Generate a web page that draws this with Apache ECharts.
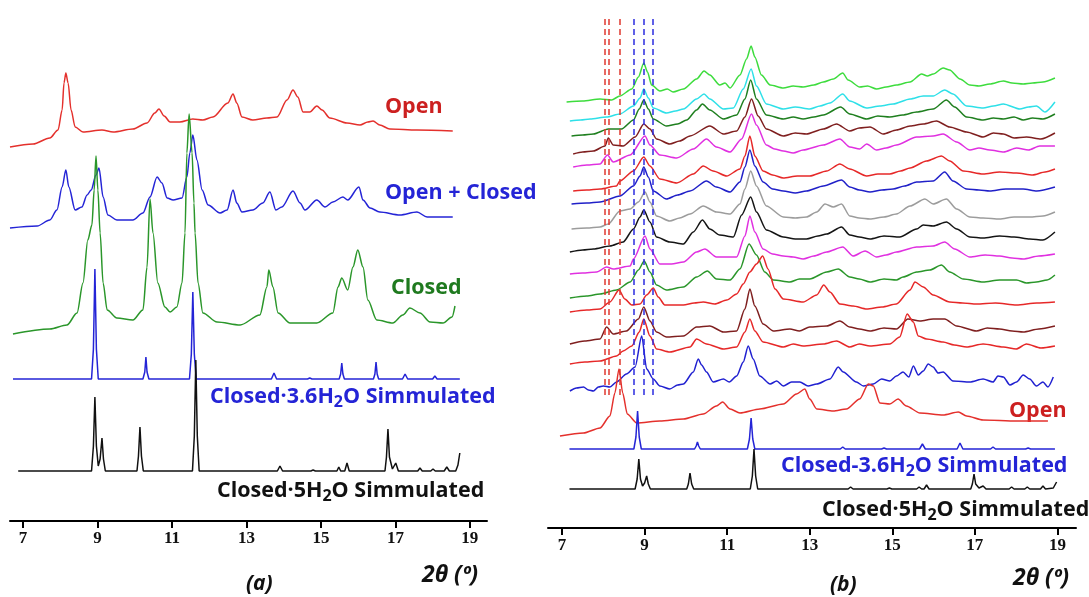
<!DOCTYPE html>
<html>
<head>
<meta charset="utf-8">
<script src="https://cdn.jsdelivr.net/npm/echarts@6/dist/echarts.min.js"></script>
<style>
  html, body { margin: 0; padding: 0; background: #fff; }
  #chart { width: 1089px; height: 597px; }
</style>
</head>
<body>
<div id="chart"></div>
<script>
// tick labels on both 2θ axes
var tickLabels = [7, 9, 11, 13, 15, 17, 19];

// ---- panel (a): [2θ, intensity above the trace's own baseline] ----
var aOpen = [[6.65,0],[7.27,3],[7.72,9],[7.94,17],[8.05,37],[8.10,64],[8.15,74],[8.21,64],[8.29,37],[8.40,20],[8.61,15],[9.12,17],[9.42,15],[9.95,18],[10.33,24],[10.54,34],[10.65,38],[10.79,31],[10.95,25],[11.21,25],[11.56,28],[11.83,27],[12.10,30],[12.50,44],[12.64,53],[12.74,44],[12.88,30],[13.17,27],[13.55,29],[13.82,30],[14.09,47],[14.25,57],[14.38,50],[14.52,35],[14.70,35],[14.89,41],[15.03,37],[15.24,29],[15.70,24],[16.05,22],[16.26,25],[16.40,26],[16.58,22],[16.85,18],[17.58,17],[18.54,16]];
var aOpenClosed = [[6.65,0],[7.38,2],[7.72,8],[7.91,18],[8.05,41],[8.15,58],[8.23,41],[8.40,18],[8.58,21],[8.72,33],[8.83,38],[8.96,53],[9.04,60],[9.15,31],[9.28,13],[9.52,8],[9.95,8],[10.22,15],[10.41,31],[10.60,51],[10.73,45],[10.87,30],[11.03,28],[11.27,30],[11.40,51],[11.48,75],[11.56,93],[11.67,68],[11.81,38],[11.97,23],[12.29,15],[12.48,18],[12.64,38],[12.74,25],[12.88,16],[13.17,18],[13.44,25],[13.63,36],[13.79,18],[13.95,21],[14.25,37],[14.44,25],[14.57,18],[14.89,28],[15.11,21],[15.32,26],[15.59,31],[15.72,28],[16.02,41],[16.13,28],[16.32,20],[16.58,16],[17.12,13],[17.58,16],[17.85,11],[18.54,11]];
var aClosed = [[6.73,0],[7.72,5],[8.18,9],[8.45,21],[8.61,51],[8.74,94],[8.85,109],[8.91,144],[8.96,178],[9.01,144],[9.07,101],[9.15,51],[9.26,24],[9.52,16],[9.95,14],[10.22,24],[10.33,67],[10.41,135],[10.49,101],[10.62,51],[10.81,27],[10.95,22],[11.13,27],[11.27,51],[11.35,101],[11.40,181],[11.46,220],[11.54,181],[11.59,131],[11.62,101],[11.70,51],[11.83,21],[12.21,12],[12.83,9],[13.36,19],[13.55,47],[13.60,64],[13.71,47],[13.85,21],[14.17,11],[14.89,11],[15.32,21],[15.46,47],[15.56,56],[15.72,44],[15.86,67],[15.99,84],[16.13,67],[16.26,34],[16.50,14],[16.93,11],[17.20,19],[17.39,26],[17.66,21],[17.93,12],[18.28,11],[18.52,17],[18.60,28]];
var aSim36 = [[6.73,0],[8.84,0],[8.89,30],[8.93,110],[8.97,30],[9.02,0],[10.22,0],[10.27,7],[10.30,22],[10.33,7],[10.38,0],[11.47,0],[11.52,25],[11.56,87],[11.60,25],[11.65,0],[13.67,0],[13.74,6],[13.81,0],[14.64,0],[14.70,1],[14.76,0],[15.49,0],[15.53,5],[15.56,16],[15.59,5],[15.63,0],[16.41,0],[16.45,5],[16.48,17],[16.51,5],[16.55,0],[17.19,0],[17.26,5],[17.33,0],[18.00,0],[18.06,3],[18.12,0],[18.73,0]];
var aSim5 = [[6.87,0],[8.84,0],[8.89,25],[8.93,74],[8.97,25],[9.02,5],[9.07,12],[9.12,33],[9.16,12],[9.21,0],[10.06,0],[10.10,15],[10.14,44],[10.18,15],[10.23,0],[11.55,0],[11.60,35],[11.64,111],[11.68,35],[11.73,0],[13.83,0],[13.90,5],[13.97,0],[14.73,0],[14.79,1],[14.85,0],[15.43,0],[15.48,4],[15.53,0],[15.64,0],[15.70,8],[15.76,0],[16.72,0],[16.76,14],[16.80,42],[16.84,14],[16.92,2],[17.01,8],[17.08,0],[17.60,0],[17.66,3],[17.72,0],[17.95,0],[18.01,2],[18.07,0],[18.31,0],[18.38,4],[18.45,0],[18.62,0],[18.68,6],[18.73,18]];
var aOffsets = [374, 293, 187, 142, 50];

// ---- panel (b): stacked in-situ patterns, top to bottom ----
var bLime = [[7.11,0],[7.50,1],[7.92,3],[8.20,2],[8.40,6],[8.69,13],[8.85,25],[8.98,39],[9.07,30],[9.17,17],[9.37,11],[9.55,13],[9.69,10],[9.94,13],[10.26,23],[10.44,31],[10.58,27],[10.82,17],[10.95,19],[11.07,14],[11.31,27],[11.47,43],[11.58,56],[11.67,45],[11.83,27],[12.04,17],[12.36,14],[12.60,16],[12.84,15],[13.10,17],[13.33,20],[13.57,23],[13.80,29],[13.93,22],[14.21,15],[14.40,16],[14.62,13],[14.85,15],[15.10,17],[15.43,20],[15.71,28],[15.85,26],[15.99,28],[16.23,34],[16.39,32],[16.64,23],[16.88,17],[17.10,16],[17.36,18],[17.69,21],[17.90,19],[18.17,18],[18.40,19],[18.65,20],[18.94,24]];
var bCyan = [[7.19,0],[7.45,1],[7.68,2],[8.08,4],[8.40,7],[8.73,15],[8.89,23],[8.98,32],[9.09,23],[9.21,13],[9.53,8],[9.75,10],[9.94,12],[10.26,22],[10.44,27],[10.58,22],[10.91,12],[11.15,13],[11.39,32],[11.58,52],[11.71,35],[11.95,17],[12.36,12],[12.65,14],[13.00,12],[13.25,15],[13.49,18],[13.80,27],[13.97,20],[14.38,13],[14.70,15],[15.02,17],[15.43,22],[15.75,25],[15.99,25],[16.27,31],[16.47,27],[16.80,15],[17.20,13],[17.45,15],[17.69,17],[18.09,12],[18.30,14],[18.49,15],[18.70,9],[18.94,19]];
var bDarkGreen = [[7.23,0],[7.50,1],[7.76,2],[8.12,7],[8.44,7],[8.73,16],[8.87,27],[8.98,36],[9.09,27],[9.21,17],[9.53,10],[9.80,12],[10.02,16],[10.26,26],[10.40,32],[10.58,26],[10.91,17],[11.23,21],[11.43,37],[11.57,56],[11.71,37],[11.95,21],[12.36,17],[12.60,19],[12.84,17],[13.10,19],[13.33,21],[13.75,29],[13.97,22],[14.38,17],[14.65,20],[14.94,19],[15.25,21],[15.59,24],[15.99,27],[16.31,36],[16.51,29],[16.80,19],[17.20,16],[17.45,18],[17.69,17],[17.95,19],[18.17,16],[18.40,18],[18.65,17],[18.94,22]];
var bBrown1 = [[7.27,0],[7.50,2],[7.76,3],[8.04,8],[8.12,16],[8.24,9],[8.48,8],[8.77,17],[8.98,30],[9.13,25],[9.29,15],[9.61,10],[9.85,13],[10.10,18],[10.58,28],[10.91,20],[11.23,23],[11.43,37],[11.59,55],[11.75,38],[11.95,25],[12.36,18],[12.65,21],[12.92,20],[13.33,25],[13.65,30],[13.97,23],[14.20,26],[14.46,27],[14.78,20],[15.10,24],[15.43,28],[15.75,30],[16.07,33],[16.39,27],[16.80,22],[17.20,17],[17.45,21],[17.69,20],[17.95,16],[18.25,17],[18.60,15],[18.94,21]];
var bMagenta1 = [[7.27,0],[7.60,2],[7.92,3],[8.10,12],[8.24,5],[8.65,12],[9.01,31],[9.13,22],[9.37,12],[9.78,9],[10.18,18],[10.50,28],[10.74,20],[11.07,15],[11.35,28],[11.59,53],[11.71,42],[11.95,22],[12.15,18],[12.36,16],[12.60,14],[12.84,17],[13.33,22],[13.73,28],[13.97,20],[14.21,18],[14.38,23],[14.62,17],[14.85,19],[15.10,22],[15.59,30],[15.99,31],[16.23,33],[16.56,25],[16.88,17],[17.10,19],[17.36,17],[17.70,15],[18.01,19],[18.30,17],[18.57,21],[18.94,21]];
var bRed1 = [[7.27,0],[7.60,1],[7.92,2],[8.32,5],[8.40,10],[8.73,20],[8.98,34],[9.13,25],[9.37,12],[9.78,8],[10.18,17],[10.42,25],[10.66,20],[10.99,15],[11.31,22],[11.43,35],[11.55,55],[11.67,35],[11.87,20],[12.10,16],[12.36,13],[12.70,15],[13.00,15],[13.41,20],[13.73,27],[13.97,22],[14.38,15],[14.65,17],[14.94,17],[15.20,20],[15.43,23],[15.83,30],[16.19,35],[16.39,30],[16.72,20],[17.20,17],[17.60,19],[18.01,18],[18.40,16],[18.70,19],[18.94,22]];
var bBlue1 = [[7.23,0],[7.60,1],[7.92,2],[8.40,8],[8.73,18],[8.89,28],[8.98,37],[9.09,27],[9.21,13],[9.53,5],[9.80,9],[10.10,13],[10.50,23],[10.74,17],[11.07,12],[11.31,22],[11.43,37],[11.55,54],[11.67,38],[11.87,22],[12.10,15],[12.36,13],[12.65,11],[12.92,13],[13.33,18],[13.77,24],[13.97,17],[14.20,14],[14.46,12],[14.75,14],[15.02,15],[15.30,18],[15.59,22],[15.99,23],[16.27,32],[16.47,23],[16.80,15],[17.10,14],[17.36,13],[17.75,15],[18.17,15],[18.50,13],[18.94,17]];
var bGray = [[7.23,0],[7.60,1],[7.92,2],[8.12,5],[8.40,18],[8.65,20],[8.85,27],[9.01,37],[9.13,27],[9.29,13],[9.61,8],[9.85,11],[10.10,15],[10.42,23],[10.74,17],[11.07,15],[11.31,25],[11.43,40],[11.57,58],[11.71,43],[11.95,23],[12.36,12],[12.65,11],[12.92,12],[13.17,17],[13.37,25],[13.57,22],[13.77,25],[13.97,13],[14.20,11],[14.46,10],[14.80,12],[15.10,15],[15.43,23],[15.79,30],[15.99,25],[16.31,30],[16.56,20],[16.88,12],[17.20,11],[17.60,10],[17.95,12],[18.33,12],[18.65,13],[18.94,17]];
var bBlack = [[7.19,0],[7.50,2],[7.76,3],[8.16,6],[8.48,10],[8.73,23],[8.89,35],[8.98,42],[9.13,30],[9.29,15],[9.61,10],[9.94,8],[10.18,20],[10.40,32],[10.58,23],[10.82,17],[11.15,15],[11.35,37],[11.57,55],[11.71,40],[11.95,22],[12.36,15],[12.65,13],[12.92,13],[13.20,16],[13.41,18],[13.77,25],[13.97,17],[14.20,15],[14.46,13],[14.80,16],[15.18,15],[15.59,23],[15.75,27],[15.99,26],[16.31,30],[16.56,23],[16.88,15],[17.20,14],[17.60,16],[17.95,15],[18.33,13],[18.65,12],[18.94,20]];
var bMagenta2 = [[7.19,0],[7.50,1],[7.84,2],[8.08,7],[8.24,5],[8.65,8],[8.73,15],[9.01,38],[9.13,25],[9.37,10],[9.65,10],[9.94,12],[10.26,22],[10.46,25],[10.74,17],[11.23,17],[11.43,38],[11.55,58],[11.67,42],[11.87,25],[12.10,20],[12.36,18],[12.60,17],[12.84,15],[13.10,18],[13.41,22],[13.80,27],[14.05,18],[14.34,23],[14.62,17],[14.85,19],[15.10,22],[15.59,27],[15.99,28],[16.27,32],[16.51,25],[16.88,17],[17.25,19],[17.60,18],[17.90,16],[18.17,15],[18.55,18],[18.94,20]];
var bGreen = [[7.19,0],[7.60,2],[7.92,4],[8.32,8],[8.65,16],[8.85,28],[8.99,37],[9.13,26],[9.29,13],[9.53,8],[9.94,11],[10.26,21],[10.52,27],[10.74,19],[11.07,18],[11.31,29],[11.53,54],[11.71,43],[11.91,26],[12.12,18],[12.52,16],[12.75,19],[13.00,19],[13.41,26],[13.69,29],[13.97,21],[14.20,19],[14.46,16],[14.80,19],[15.10,18],[15.26,21],[15.59,26],[15.91,28],[16.19,33],[16.39,26],[16.72,19],[17.20,16],[17.60,18],[18.01,18],[18.25,15],[18.49,16],[18.75,18],[18.94,23]];
var bRed2 = [[7.19,0],[7.60,2],[7.92,3],[8.16,10],[8.38,22],[8.52,13],[8.69,7],[8.89,8],[9.05,17],[9.21,24],[9.33,15],[9.49,7],[9.94,7],[10.20,9],[10.42,10],[10.70,8],[10.99,12],[11.23,18],[11.39,28],[11.55,40],[11.71,48],[11.86,56],[11.99,43],[12.16,23],[12.36,13],[12.84,10],[13.17,17],[13.34,27],[13.49,20],[13.73,8],[14.05,6],[14.38,3],[14.75,5],[15.10,8],[15.43,22],[15.55,30],[15.75,25],[15.99,17],[16.39,10],[16.70,9],[17.04,8],[17.50,9],[18.01,7],[18.50,9],[18.94,10]];
var bBrown2 = [[7.19,0],[7.55,3],[7.92,5],[8.08,17],[8.24,10],[8.56,13],[8.85,25],[8.98,37],[9.13,23],[9.29,12],[9.53,7],[9.94,8],[10.26,17],[10.58,18],[10.91,12],[11.23,13],[11.43,35],[11.55,55],[11.67,38],[11.87,20],[12.12,13],[12.52,15],[12.75,13],[13.00,17],[13.41,18],[13.73,23],[13.97,17],[14.20,15],[14.46,13],[14.80,16],[15.10,15],[15.38,25],[15.67,23],[15.99,25],[16.27,25],[16.56,18],[17.04,13],[17.30,16],[17.60,15],[17.90,13],[18.17,12],[18.55,15],[18.94,18]];
var bRed3 = [[7.19,0],[7.55,2],[7.92,3],[8.32,8],[8.48,13],[8.69,18],[8.87,32],[8.98,45],[9.13,28],[9.29,15],[9.61,12],[10.10,17],[10.26,25],[10.50,20],[10.91,15],[11.23,17],[11.43,32],[11.55,45],[11.67,33],[11.87,22],[12.36,17],[12.60,20],[12.84,18],[13.33,20],[13.65,23],[13.97,17],[14.20,20],[14.46,18],[14.94,20],[15.18,27],[15.36,50],[15.51,42],[15.63,28],[15.83,25],[16.23,22],[16.50,19],[16.80,17],[17.20,20],[17.69,17],[18.00,15],[18.25,20],[18.60,16],[18.94,18]];
var bBlue2 = [[7.19,0],[7.35,3],[7.52,4],[7.64,1],[7.76,0],[7.88,4],[8.00,5],[8.16,4],[8.32,9],[8.56,17],[8.77,24],[8.93,55],[9.05,22],[9.21,12],[9.37,5],[9.61,2],[9.80,6],[9.94,7],[10.18,19],[10.30,32],[10.38,26],[10.50,19],[10.66,9],[10.91,12],[11.05,9],[11.23,15],[11.39,29],[11.51,45],[11.63,32],[11.79,15],[12.04,7],[12.20,10],[12.36,5],[12.56,9],[12.76,9],[12.96,5],[13.17,7],[13.49,12],[13.69,24],[13.81,19],[14.13,9],[14.30,5],[14.54,7],[14.74,12],[14.94,10],[15.10,15],[15.26,19],[15.40,14],[15.51,25],[15.63,16],[15.75,20],[15.87,27],[15.99,24],[16.11,18],[16.23,19],[16.47,10],[16.88,9],[17.20,12],[17.44,9],[17.56,15],[17.69,14],[17.85,6],[18.01,9],[18.17,16],[18.33,12],[18.49,5],[18.65,9],[18.77,4],[18.90,14]];
var bOpen = [[6.95,0],[7.52,3],[7.92,8],[8.16,20],[8.28,43],[8.38,67],[8.47,43],[8.58,22],[8.81,13],[9.37,15],[9.94,17],[10.42,22],[10.74,30],[10.89,34],[11.07,27],[11.31,23],[11.79,27],[12.36,32],[12.68,42],[12.88,47],[13.00,37],[13.17,27],[13.57,25],[13.89,27],[14.21,37],[14.42,52],[14.54,50],[14.70,33],[14.94,32],[15.14,37],[15.34,30],[15.67,23],[16.23,21],[16.60,24],[16.80,20],[17.20,16],[18.01,15],[18.77,15]];
var bSim36 = [[7.18,0],[8.74,0],[8.79,12],[8.83,38],[8.87,12],[8.92,0],[10.21,0],[10.25,3],[10.28,7],[10.31,3],[10.35,0],[11.49,0],[11.54,10],[11.58,31],[11.62,10],[11.67,0],[13.74,0],[13.80,2],[13.86,0],[14.74,0],[14.80,1],[14.86,0],[15.66,0],[15.73,5],[15.80,0],[16.57,0],[16.64,6],[16.71,0],[17.38,0],[17.44,2],[17.50,0],[18.23,0],[18.29,1],[18.35,0],[18.94,0]];
var bSim5 = [[7.18,0],[8.77,0],[8.82,10],[8.86,30],[8.90,10],[8.95,3],[9.00,6],[9.05,13],[9.09,5],[9.14,0],[10.02,0],[10.06,5],[10.10,16],[10.14,5],[10.19,0],[11.56,0],[11.61,13],[11.65,40],[11.69,13],[11.74,0],[13.93,0],[13.99,2],[14.05,0],[14.87,0],[14.93,1],[14.99,0],[15.59,0],[15.65,2],[15.71,0],[15.77,0],[15.83,4],[15.89,0],[16.90,0],[16.94,5],[16.98,15],[17.02,5],[17.10,1],[17.20,3],[17.27,0],[17.83,0],[17.89,2],[17.95,0],[18.21,0],[18.27,2],[18.33,0],[18.59,0],[18.65,3],[18.71,0],[18.90,1],[18.98,7]];
var bOffsets = [426, 407, 392, 374, 361, 337, 324, 299, 276, 254, 230, 216, 184, 164, 137, 92, 79, 39];

// reference lines in (b): Open peak positions (red) and Closed peak positions (blue)
var redDashX = [8.04, 8.12, 8.39];
var blueDashX = [8.73, 8.98, 9.19];
var dashSpan = [133, 513];

var chart = echarts.init(document.getElementById('chart'));

function trace(data, offset, color, idx, smooth) {
  return {
    type: 'line',
    xAxisIndex: idx,
    yAxisIndex: idx,
    data: data.map(function (p) { return [p[0], p[1] + offset]; }),
    symbol: 'none',
    smooth: smooth,
    smoothMonotone: 'x',
    silent: true,
    lineStyle: { color: color, width: 1.5 }
  };
}

var aColors = ['#e4302c', '#2424d6', '#2a962a', '#2424d6', '#111111'];
var aData = [aOpen, aOpenClosed, aClosed, aSim36, aSim5];
var bColors = ['#3ddc3d', '#2ee0e8', '#1f7f1f', '#7f1f1f', '#e030e0', '#e62828', '#2020c8', '#9c9c9c', '#141414',
               '#e030e0', '#2a962a', '#e62828', '#7f1f1f', '#e62828', '#2020d0', '#e4302c', '#2424d6', '#111111'];
var bData = [bLime, bCyan, bDarkGreen, bBrown1, bMagenta1, bRed1, bBlue1, bGray, bBlack,
             bMagenta2, bGreen, bRed2, bBrown2, bRed3, bBlue2, bOpen, bSim36, bSim5];

var series = [];
aData.forEach(function (d, i) {
  series.push(trace(d, aOffsets[i], aColors[i], 0, i < 3 ? 0.3 : 0));
});
bData.forEach(function (d, i) {
  series.push(trace(d, bOffsets[i], bColors[i], 1, i < 16 ? 0.25 : 0));
});

// dashed guide lines
function dashes(xs, color) {
  return xs.map(function (x) {
    return [{ coord: [x, dashSpan[0]], lineStyle: { color: color } }, { coord: [x, dashSpan[1]] }];
  });
}
series.push({
  type: 'line', xAxisIndex: 1, yAxisIndex: 1, data: [], silent: true,
  markLine: {
    symbol: ['none', 'none'], silent: true, animation: false,
    label: { show: false },
    lineStyle: { type: [6, 4], width: 1.5 },
    data: dashes(redDashX, '#e0392f').concat(dashes(blueDashX, '#2c2ce0'))
  }
});

function xAxisFor(idx, min, max) {
  return {
    type: 'value', gridIndex: idx, min: min, max: max,
    axisLine: { lineStyle: { color: '#000', width: 2 } },
    axisTick: { customValues: tickLabels, length: 7, lineStyle: { color: '#000', width: 2 } },
    axisLabel: {
      customValues: tickLabels, margin: 9, color: '#111',
      fontFamily: 'Liberation Serif', fontWeight: 'bold', fontSize: 17
    },
    splitLine: { show: false }
  };
}

var labelFont = '"Open Sans", "Noto Sans", sans-serif';
function label(x, y, text, color, align) {
  return {
    type: 'text', x: x, y: y, silent: true,
    style: {
      text: text, fill: color, align: align || 'left', verticalAlign: 'middle',
      textAlign: align || 'left', textVerticalAlign: 'middle',
      fontFamily: labelFont, fontWeight: 'bold', fontSize: 21.5,
      rich: { s: { fill: color, fontFamily: labelFont, fontWeight: 'bold', fontSize: 16, padding: [11, 0, 0, 0] } }
    }
  };
}
function italic(x, y, text, size) {
  return {
    type: 'text', x: x, y: y, silent: true,
    style: {
      text: text, fill: '#111', align: 'left', verticalAlign: 'middle',
      textAlign: 'left', textVerticalAlign: 'middle',
      fontFamily: labelFont, fontWeight: 'bold', fontStyle: 'italic', fontSize: size
    }
  };
}

chart.setOption({
  animation: false,
  backgroundColor: '#fff',
  grid: [
    { left: 10, width: 477, top: 0, height: 521 },
    { left: 548, width: 528, top: 0, height: 528 }
  ],
  xAxis: [xAxisFor(0, 6.65, 19.46), xAxisFor(1, 6.66, 19.45)],
  yAxis: [
    { type: 'value', gridIndex: 0, min: 0, max: 521, show: false },
    { type: 'value', gridIndex: 1, min: 0, max: 528, show: false }
  ],
  series: series,
  graphic: [
    label(385, 107, 'Open', '#cc2020'),
    label(385, 193, 'Open + Closed', '#2424d6'),
    label(391, 288, 'Closed', '#1f7a1f'),
    label(210, 397, 'Closed·3.6H{s|2}O Simmulated', '#2424d6'),
    label(217, 491, 'Closed·5H{s|2}O Simmulated', '#111'),
    italic(422, 575, '2θ (º)', 23),
    italic(246, 584, '(a)', 21),
    label(1009, 411, 'Open', '#cc2020'),
    label(781, 466, 'Closed-3.6H{s|2}O Simmulated', '#2424d6'),
    label(822, 510, 'Closed·5H{s|2}O Simmulated', '#111'),
    italic(1013, 578, '2θ (º)', 23),
    italic(830, 585, '(b)', 21)
  ]
});
</script>
</body>
</html>
